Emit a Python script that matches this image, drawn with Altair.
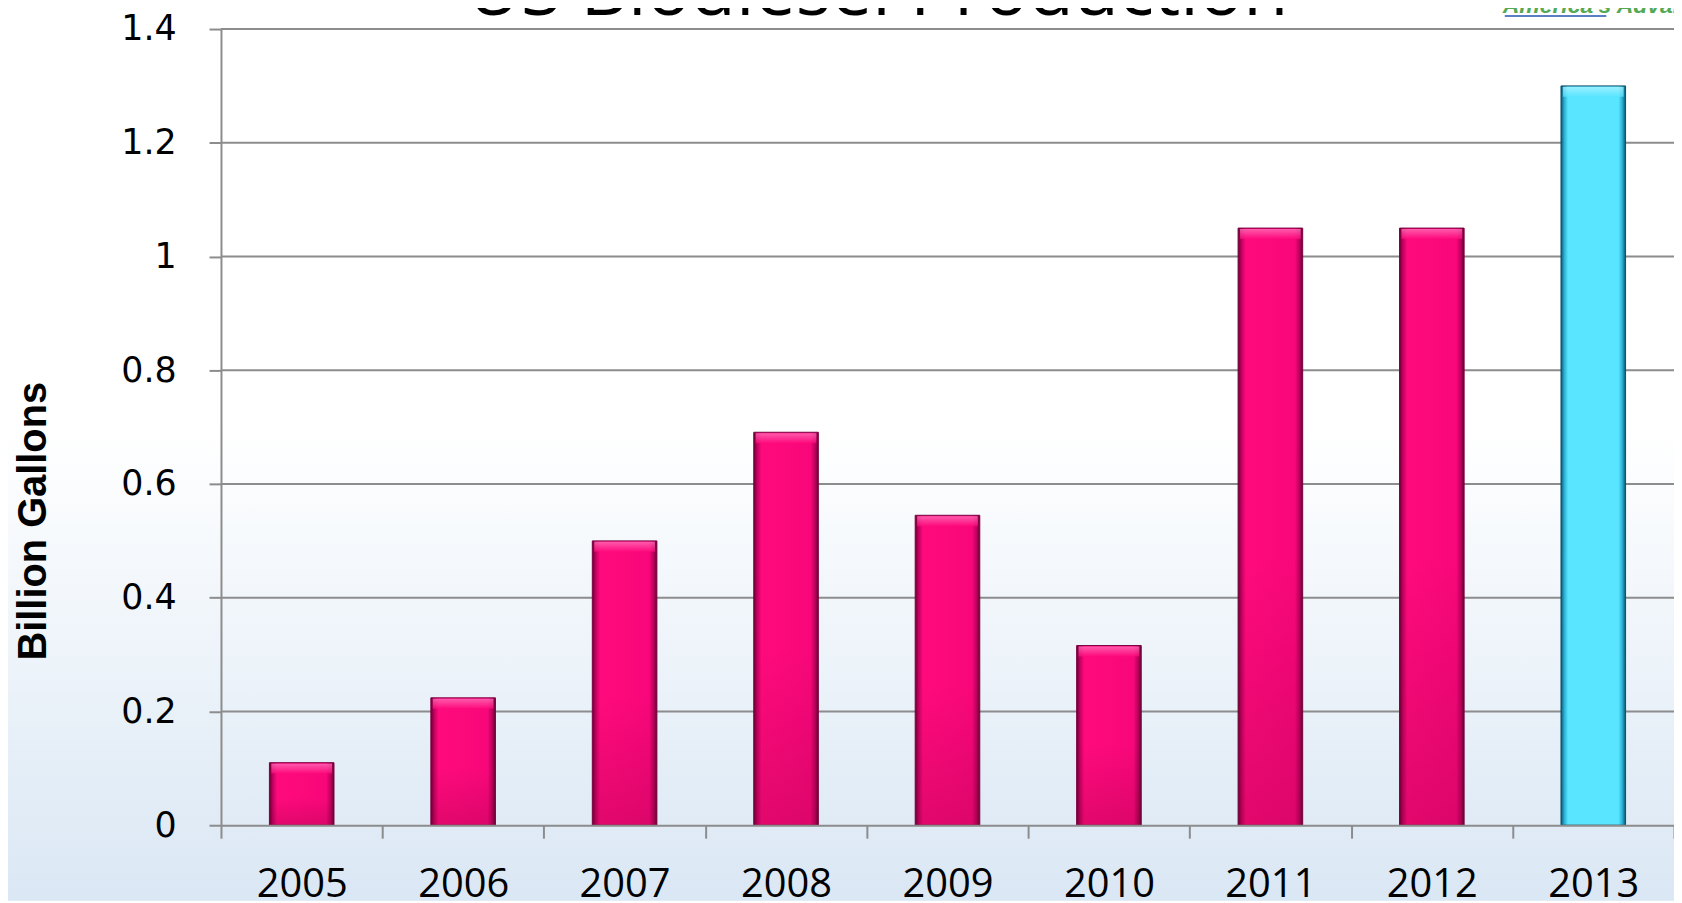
import altair as alt
import pandas as pd

# ---- data ----
years = ["2005", "2006", "2007", "2008", "2009", "2010", "2011", "2012", "2013"]
values = [0.11, 0.224, 0.50, 0.691, 0.545, 0.316, 1.05, 1.05, 1.30]
highlight = [False, False, False, False, False, False, False, False, True]
y_ticks = [0, 0.2, 0.4, 0.6, 0.8, 1.0, 1.2, 1.4]
grid_values = [0.2, 0.4, 0.6, 0.8, 1.0, 1.2, 1.4]
title_text = "US Biodiesel Production"
logo_text = "America's Advanced Biofuel"
y_title = "Billion Gallons"

df = pd.DataFrame({"year": years, "value": values, "highlight": highlight})
pink_df = df[~df["highlight"]]
cyan_df = df[df["highlight"]]
grid_df = pd.DataFrame({"value": grid_values})
one = pd.DataFrame({"a": [0]})

W, H = 1460, 800
PAD_L, PAD_T = 214, 19
TOTAL_H = 895
GRAY = "#8c8c8c"

x_scale = alt.Scale(domain=years, paddingInner=0, paddingOuter=0)
y_scale = alt.Scale(domain=[0, 1.4], nice=False)

x_axis = alt.Axis(
    labelAngle=0, labelFont="Open Sans", labelFontSize=40, labelColor="black",
    labelPadding=27, tickBand="extent", tickSize=13, tickColor=GRAY, tickWidth=2,
    domainColor=GRAY, domainWidth=2, title=None, grid=False, zindex=1,
)
y_axis = alt.Axis(
    values=y_ticks, format="~g", domainColor=GRAY, domainWidth=2, tickColor=GRAY,
    tickWidth=2, tickSize=12, labelFont="DejaVu Sans", labelFontSize=35,
    labelColor="black", labelPadding=33, title=y_title, titleFont="Liberation Sans",
    titleFontSize=40, titleFontWeight="bold", titleColor="black", titleAngle=270,
    titleX=-188, titleY=494, titleAlign="center", titleBaseline="middle",
    grid=False, zindex=1,
)

X = alt.X("year:N", scale=x_scale, axis=x_axis, sort=years)
Y = alt.Y("value:Q", scale=y_scale, axis=y_axis)
BAR_W = alt.RelativeBandSize(band=0.4)


def grad(stops, vertical):
    return alt.Gradient(
        gradient="linear",
        stops=[alt.GradientStop(color=c, offset=o) for o, c in stops],
        x1=0, x2=0 if vertical else 1, y1=0, y2=1 if vertical else 0,
    )


# background gradient covering the whole chart
background = alt.Chart(one).mark_rect(
    color=grad([(0, "#ffffff"), (0.47, "#ffffff"), (1, "#dae7f4")], True)
).encode(
    x=alt.value(-PAD_L), x2=alt.value(W + 10),
    y=alt.value(-PAD_T), y2=alt.value(TOTAL_H - PAD_T),
)

grid = alt.Chart(grid_df).mark_rule(color=GRAY, strokeWidth=2).encode(y=Y)

pink_bars = alt.Chart(pink_df).mark_bar(
    width=BAR_W,
    color=grad([(0, "#66002f"), (0.05, "#c00060"), (0.12, "#ff0a7c"),
                (0.88, "#f8077a"), (0.95, "#bc005c"), (1, "#600030")], False),
    stroke="#7a0040", strokeWidth=1,
).encode(x=X, y=Y)

pink_shade = alt.Chart(pink_df).mark_bar(
    width=BAR_W,
    color=grad([(0, "rgba(120,0,50,0)"), (0.55, "rgba(120,0,50,0)"),
                (1, "rgba(120,0,50,0.22)")], True),
).encode(x=X, y=Y)

pink_bevel = alt.Chart(pink_df).mark_tick(
    thickness=10, size=61, yOffset=6,
    color=grad([(0, "#ff7cc0"), (1, "#ff0a7c")], True),
).encode(x=X, y=Y)

cyan_bars = alt.Chart(cyan_df).mark_bar(
    width=BAR_W,
    color=grad([(0, "#0b5470"), (0.05, "#2aaed0"), (0.11, "#59e5ff"),
                (0.89, "#59e5ff"), (0.95, "#2aaed0"), (1, "#0b5470")], False),
    stroke="#0f4f68", strokeWidth=1,
).encode(x=X, y=Y)

cyan_bevel = alt.Chart(cyan_df).mark_tick(
    thickness=10, size=61, yOffset=6,
    color=grad([(0, "#b4f5ff"), (1, "#59e5ff")], True),
).encode(x=X, y=Y)

title = alt.Chart(one).mark_text(
    text=title_text, font="Open Sans", fontSize=74, color="black",
    align="center", baseline="alphabetic",
).encode(x=alt.value(660), y=alt.value(-14))

logo = alt.Chart(one).mark_text(
    text=logo_text, font="Liberation Sans", fontSize=23, fontStyle="italic",
    fontWeight="bold", color="#55a955", align="left", baseline="alphabetic",
).encode(x=alt.value(1288), y=alt.value(-16))

logo_line = alt.Chart(one).mark_rule(color="#5b7fc4", strokeWidth=2).encode(
    x=alt.value(1290), x2=alt.value(1392), y=alt.value(-13)
)

chart = alt.layer(
    background, grid, pink_bars, pink_shade, pink_bevel, cyan_bars, cyan_bevel,
    title, logo, logo_line,
).properties(
    width=W, height=H,
    autosize=alt.AutoSizeParams(type="none"),
    padding={"left": PAD_L, "top": PAD_T, "right": 0, "bottom": TOTAL_H - PAD_T - H},
).configure_view(stroke=None).configure(background="white")

chart.save("out.html", embed_options={"renderer": "svg", "actions": False})
